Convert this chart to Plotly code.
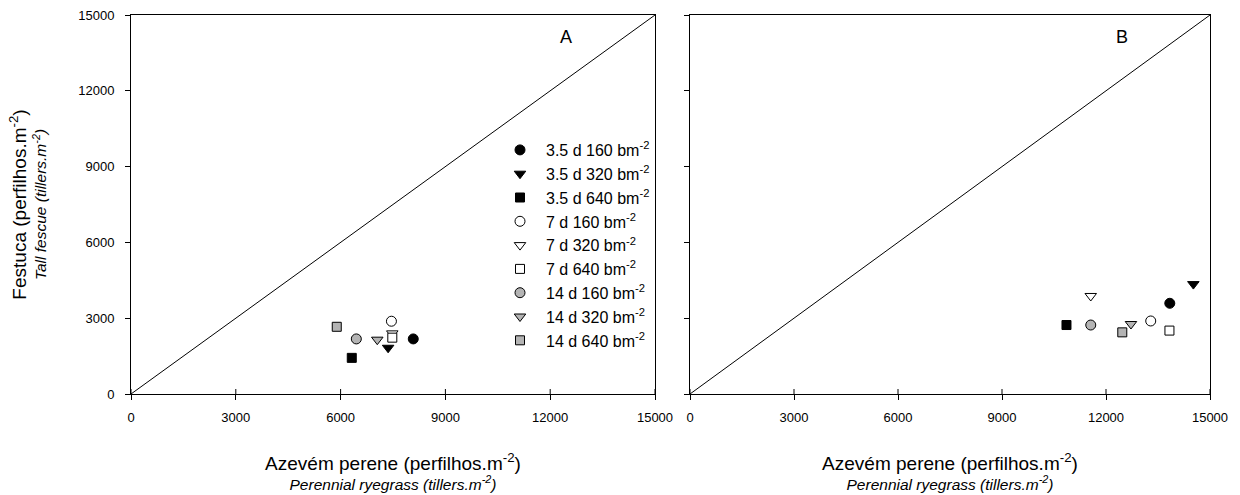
import plotly.graph_objects as go

# ---- data ----
series_names = ["3.5 d 160 bm<sup>-2</sup>", "3.5 d 320 bm<sup>-2</sup>", "3.5 d 640 bm<sup>-2</sup>",
                "7 d 160 bm<sup>-2</sup>", "7 d 320 bm<sup>-2</sup>", "7 d 640 bm<sup>-2</sup>",
                "14 d 160 bm<sup>-2</sup>", "14 d 320 bm<sup>-2</sup>", "14 d 640 bm<sup>-2</sup>"]
symbols = ["circle", "triangle-down", "square"] * 3
fills = ["black"] * 3 + ["white"] * 3 + ["#b4b4b4"] * 3

# Panel A (ryegrass x, tall fescue y)
a_x = [8080, 7360, 6320, 7455, 7480, 7480, 6450, 7050, 5890]
a_y = [2180, 1830, 1430, 2880, 2400, 2230, 2180, 2150, 2660]
# Panel B
b_x = [13840, 14520, 10860, 13290, 11560, 13830, 11560, 12720, 12470]
b_y = [3590, 4350, 2730, 2890, 3880, 2510, 2730, 2770, 2440]

diag = [0, 15000]
tickvals = [0, 3000, 6000, 9000, 12000, 15000]
panel_labels = ["A", "B"]

FONT = "Liberation Sans, Arial, sans-serif"

fig = go.Figure()

for panel, (xs, ys, xa, ya) in enumerate([(a_x, a_y, "x", "y"), (b_x, b_y, "x2", "y2")]):
    fig.add_trace(go.Scatter(x=diag, y=diag, mode="lines", line=dict(color="black", width=1),
                             xaxis=xa, yaxis=ya, showlegend=False, hoverinfo="skip"))
    for i, name in enumerate(series_names):
        size = 9 if symbols[i] == "square" else 10
        fig.add_trace(go.Scatter(
            x=[xs[i]], y=[ys[i]], mode="markers", name=name,
            marker=dict(symbol=symbols[i], size=size, color=fills[i],
                        line=dict(color="black", width=1)),
            xaxis=xa, yaxis=ya, showlegend=(panel == 0)))

axis_common = dict(range=[0, 15000], tickvals=tickvals, tickformat="d", showgrid=False,
                   zeroline=False, showline=True, linecolor="black", linewidth=1,
                   ticks="outside", ticklen=5, tickcolor="black", tickwidth=1,
                   tickfont=dict(family=FONT, size=13, color="black"), mirror=True,
                   automargin=False)

y_dom = [101 / 495, 480 / 495]
title_x = ("<span style='font-size:19px'>Azevém perene (perfilhos.m<sup>-2</sup>)</span><br>"
           "<span style='font-size:15.5px'><i>Perennial ryegrass (tillers.m<sup>-2</sup>)</i></span>")
title_y = ("<span style='font-size:19px'>Festuca (perfilhos.m<sup>-2</sup>)</span><br>"
           "<span style='font-size:15.5px'><i>Tall fescue (tillers.m<sup>-2</sup>)</i></span>")

fig.update_layout(
    width=1240, height=495, margin=dict(l=0, r=0, t=0, b=0),
    plot_bgcolor="white", paper_bgcolor="white",
    font=dict(family=FONT, color="black"),
    xaxis=dict(domain=[131 / 1240, 655 / 1240], anchor="y", **axis_common,
               ticklabelstandoff=6,
               title=dict(text=title_x, font=dict(size=15.4), standoff=35)),
    yaxis=dict(domain=y_dom, anchor="x", **axis_common, ticklabelstandoff=8,
               title=dict(text=title_y, font=dict(size=15.4), standoff=27)),
    xaxis2=dict(domain=[690 / 1240, 1210 / 1240], anchor="y2", **axis_common,
                ticklabelstandoff=6,
                title=dict(text=title_x, font=dict(size=15.4), standoff=35)),
    yaxis2=dict(domain=y_dom, anchor="x2", **{**axis_common, "showticklabels": False}),
    legend=dict(x=494 / 1240, y=1 - 133 / 495, xanchor="left", yanchor="top",
                bgcolor="rgba(0,0,0,0)", font=dict(family=FONT, size=16, color="black"),
                traceorder="normal", itemwidth=42),
    showlegend=True,
)

# inward halves of the crossing x ticks
shapes = []
for xr, yr in [("x", "y domain"), ("x2", "y2 domain")]:
    for t in tickvals:
        shapes.append(dict(type="line", xref=xr, yref=yr, x0=t, x1=t, y0=0, y1=5 / 379,
                           line=dict(color="black", width=1)))
fig.update_layout(shapes=shapes)

for k, (xr, yr) in enumerate([("x domain", "y domain"), ("x2 domain", "y2 domain")]):
    fig.add_annotation(text=panel_labels[k], xref=xr, yref=yr, x=0.830, y=0.942,
                       xanchor="center", yanchor="middle", showarrow=False,
                       font=dict(family=FONT, size=18, color="black"))

fig.write_html("out.html")
